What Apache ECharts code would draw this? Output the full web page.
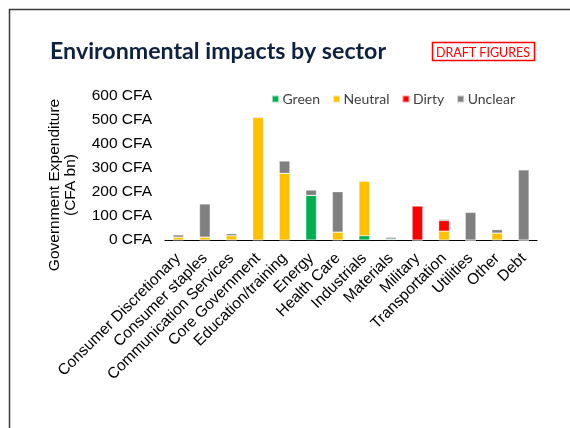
<!DOCTYPE html>
<html>
<head>
<meta charset="utf-8">
<script src="https://cdn.jsdelivr.net/npm/echarts@6/dist/echarts.min.js"></script>
<style>
html,body{margin:0;padding:0;background:#fff;}
#chart{width:570px;height:428px;}
</style>
</head>
<body>
<div id="chart"></div>
<script>
var sectors = ['Consumer Discretionary','Consumer staples','Communication Services','Core Government','Education/training','Energy','Health Care','Industrials','Materials','Military','Transportation','Utilities','Other','Debt'];
var greenVals   = [0, 0, 0, 0, 0, 186, 0, 18, 4, 0, 0, 0, 0, 0];
var neutralVals = [12, 12, 18, 510, 278, 0, 33, 228, 0, 0, 37, 0, 29, 0];
var dirtyVals   = [0, 0, 0, 3, 0, 0, 0, 0, 0, 142, 44, 0, 0, 0];
var unclearVals = [9, 138, 8, 0, 51, 22, 168, 0, 7, 0, 5, 115, 14, 292];
var yTicks = [0, 100, 200, 300, 400, 500, 600];

var chart = echarts.init(document.getElementById('chart'));

function mkSeries(name, data, color){
    return {
        name: name,
        type: 'bar',
        stack: 'total',
        barWidth: '40%',
        data: data,
        itemStyle: {color: color, borderColor: 'rgba(255,255,255,0.6)', borderWidth: 0.5},
        emphasis: {disabled: true}
    };
}

var option = {
    animation: false,
    textStyle: {fontFamily: 'Liberation Sans, Arial, sans-serif'},
    graphic: [
        // slide frame
        {type: 'rect', shape: {x: 9.5, y: 9.5, width: 700, height: 600},
         style: {fill: 'none', stroke: '#3a3a3a', lineWidth: 1.5}},
        {type: 'text', x: 50, y: 52,
         style: {text: 'Environmental impacts by sector', fill: '#0e2240', verticalAlign: 'middle',
                 font: 'bold 23.2px Lato, "Open Sans", sans-serif'}},
        {type: 'rect', shape: {x: 432.5, y: 42.5, width: 102, height: 18},
         style: {fill: '#fff', stroke: '#ff0000', lineWidth: 1.5}},
        {type: 'text', x: 483, y: 52.7,
         style: {text: 'DRAFT FIGURES', fill: '#ff0000', align: 'center', verticalAlign: 'middle',
                 font: '12.5px Lato, "Liberation Sans", sans-serif'}},
        // y axis title
        {type: 'text', x: 62.7, y: 185, rotation: Math.PI / 2,
         style: {text: 'Government Expenditure\n(CFA bn)', fill: '#000', align: 'center', verticalAlign: 'middle',
                 lineHeight: 16.5, font: '15.5px "Liberation Sans", Arial, sans-serif'}}
    ],
    legend: {
        top: 87,
        left: 266,
        itemWidth: 7,
        itemHeight: 7,
        itemGap: 12,
        icon: 'rect',
        textStyle: {fontSize: 14, color: '#404040', fontFamily: 'Lato, "Open Sans", sans-serif', padding: [0, 0, 0, -1.5]},
        data: ['Green', 'Neutral', 'Dirty', 'Unclear']
    },
    grid: {left: 165, right: 33, top: 96, bottom: 188, containLabel: false},
    xAxis: {
        type: 'category',
        data: sectors,
        axisLine: {lineStyle: {color: '#000', width: 1.2}},
        axisTick: {show: false},
        axisLabel: {interval: 0, rotate: 45, fontSize: 15.5, color: '#000', margin: 16}
    },
    yAxis: {
        type: 'value',
        min: yTicks[0],
        max: yTicks[yTicks.length - 1],
        interval: 100,
        axisLine: {show: false},
        axisTick: {show: false},
        splitLine: {show: false},
        axisLabel: {fontSize: 15.5, color: '#000', margin: 13,
                    formatter: function(v){ return v + ' CFA'; }}
    },
    series: [
        mkSeries('Green', greenVals, '#00b050'),
        mkSeries('Neutral', neutralVals, '#ffc000'),
        mkSeries('Dirty', dirtyVals, '#ff0000'),
        mkSeries('Unclear', unclearVals, '#808080')
    ]
};
chart.setOption(option);
</script>
</body>
</html>
